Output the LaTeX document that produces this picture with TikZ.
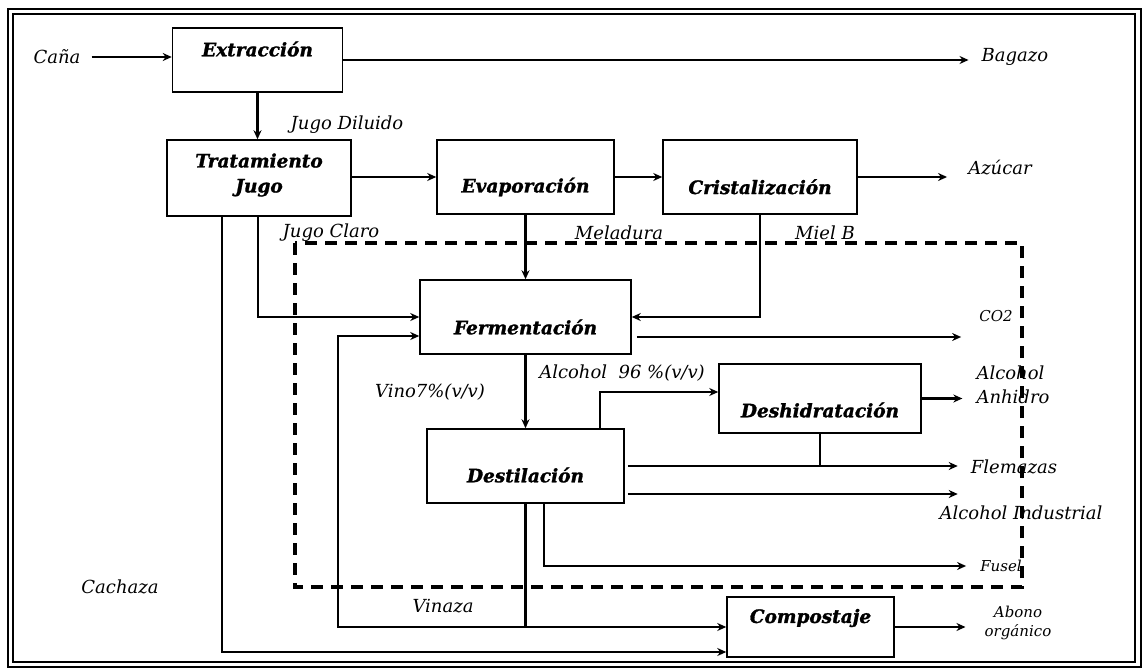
\documentclass[tikz,border=0pt]{standalone}
\usepackage{fontspec}
\setmainfont{DejaVu Serif}[BoldItalicFeatures={FakeBold=1.5}]
\usetikzlibrary{arrows.meta,positioning}
\tikzset{
  box/.style={draw, line width=1.5pt, inner sep=0pt},
  boxlbl/.style={font=\fontsize{18.5}{25}\selectfont\bfseries\itshape, inner sep=0pt, align=center},
  lbl/.style={font=\fontsize{18}{24}\selectfont\itshape, inner sep=0pt},
  smalllbl/.style={font=\fontsize{15}{19}\selectfont\itshape, inner sep=0pt, align=center},
  flow/.style={-{Stealth[length=9pt,width=8pt]}, line width=2.4pt},
  pipe/.style={line width=2.4pt},
}
\begin{document}
\begin{tikzpicture}[x=1pt,y=-1pt]
\useasboundingbox (0,0) rectangle (1144,669);
\draw[line width=2.6pt] (8,9) rectangle (1141,667);
\draw[line width=2pt] (13,14) rectangle (1135,662);
\draw[line width=3.2pt, dash pattern=on 12pt off 8pt] (295,243) rectangle (1022,587);

\node[box, minimum width=170pt, minimum height=64pt] (ext) at (257.5,60) {};
\node[box, minimum width=184pt, minimum height=76pt] (trat) at (259,178) {};
\node[box, minimum width=177pt, minimum height=74pt] (evap) at (525.5,177) {};
\node[box, minimum width=194pt, minimum height=74pt] (crist) at (760,177) {};
\node[box, minimum width=211pt, minimum height=74pt] (ferm) at (525.5,317) {};
\node[box, minimum width=197pt, minimum height=74pt] (dest) at (525.5,466) {};
\node[box, minimum width=202pt, minimum height=69pt] (desh) at (820,398.5) {};
\node[box, minimum width=167pt, minimum height=60pt] (comp) at (810.5,627) {};

\node[boxlbl] (extT) at (257.5,49) {Extracción};
\node[boxlbl] (tratT) at (259,175) {Tratamiento\\Jugo};
\node[boxlbl] (evapT) at (525.5,187) {Evaporación};
\node[boxlbl] (cristT) at (760,187) {Cristalización};
\node[boxlbl] (fermT) at (525.5,327) {Fermentación};
\node[boxlbl] (destT) at (525.5,475) {Destilación};
\node[boxlbl] (deshT) at (820,410) {Deshidratación};
\node[boxlbl] (compT) at (810.5,618) {Compostaje};

\node[lbl] (cana) at (57,57) {Caña};
\node[lbl] (bagazo) at (1015,57) {Bagazo};
\node[lbl] (jdil) at (347,125) {Jugo Diluido};
\node[lbl] (azucar) at (1000,168) {Azúcar};
\node[lbl] (jclaro) at (331,233) {Jugo Claro};
\node[lbl] (melad) at (619,233) {Meladura};
\node[lbl] (mielb) at (825,233) {Miel B};
\node[smalllbl] (co2) at (996,316) {CO2};
\node[lbl] (alc96) at (622,373) {Alcohol\ \ 96 \%(v/v)};
\node[lbl] (vino) at (430,392) {Vino7\%(v/v)};
\node[lbl, align=left] (anhid) at (1013,385) {Alcohol\\Anhidro};
\node[lbl] (flem) at (1014,467) {Flemazas};
\node[lbl] (aind) at (1021,513) {Alcohol Industrial};
\node[smalllbl] (fusel) at (1001,566) {Fusel};
\node[lbl] (cach) at (120,587) {Cachaza};
\node[lbl] (vinaza) at (443,606) {Vinaza};
\node[smalllbl] (abono) at (1018,623) {Abono\\orgánico};

\coordinate (ret) at (338,627);

\draw[flow] ([xshift=11pt]cana.east) -- (ext.west |- cana);
\draw[flow, shorten >=13pt] (ext.east) -- (ext.east -| bagazo.west);
\draw[flow] (ext.south) -- (ext.south |- trat.north);
\draw[flow] (trat.east |- evap) -- (evap.west);
\draw[flow] (evap.east) -- (crist.west);
\draw[flow, shorten >=21pt] (crist.east) -- (crist.east -| azucar.west);
\draw[flow] (evap.south) -- (ferm.north);
\draw[flow] (crist.south) |- (ferm.east);
\draw[flow] ([xshift=-1pt]trat.south) |- (ferm.west);
\draw[flow, shorten >=23pt] ([xshift=5pt,yshift=-20pt]ferm.east) -- ([xshift=5pt,yshift=-20pt]ferm.east -| co2.west);
\draw[flow] (ferm.south) -- (dest.north);
\draw[flow] ([xshift=74.5pt]dest.north) |- ([yshift=6.5pt]desh.west);
\draw[flow, shorten >=14pt] (desh.east) -- (desh.east -| anhid.west);
\draw[pipe] (desh.south) -- (desh.south |- dest.east);
\draw[flow, shorten >=13pt] ([xshift=3pt]dest.east) -- (dest.east -| flem.west);
\draw[flow, shorten >=13pt] ([xshift=3pt,yshift=-28pt]dest.east) -- ([yshift=-28pt]dest.east -| flem.west);
\draw[flow, shorten >=14pt] ([xshift=18.5pt]dest.south) |- (fusel.west);
\draw[flow] (dest.south) |- (comp.west);
\draw[flow] (dest.south |- comp.west) -- (ret) |- ([yshift=-19pt]ferm.west);
\draw[flow] ([xshift=-37pt]trat.south) |- ([yshift=-25pt]comp.west);
\draw[flow, shorten >=19pt] (comp.east) -- (comp.east -| abono.west);
\end{tikzpicture}
\end{document}
